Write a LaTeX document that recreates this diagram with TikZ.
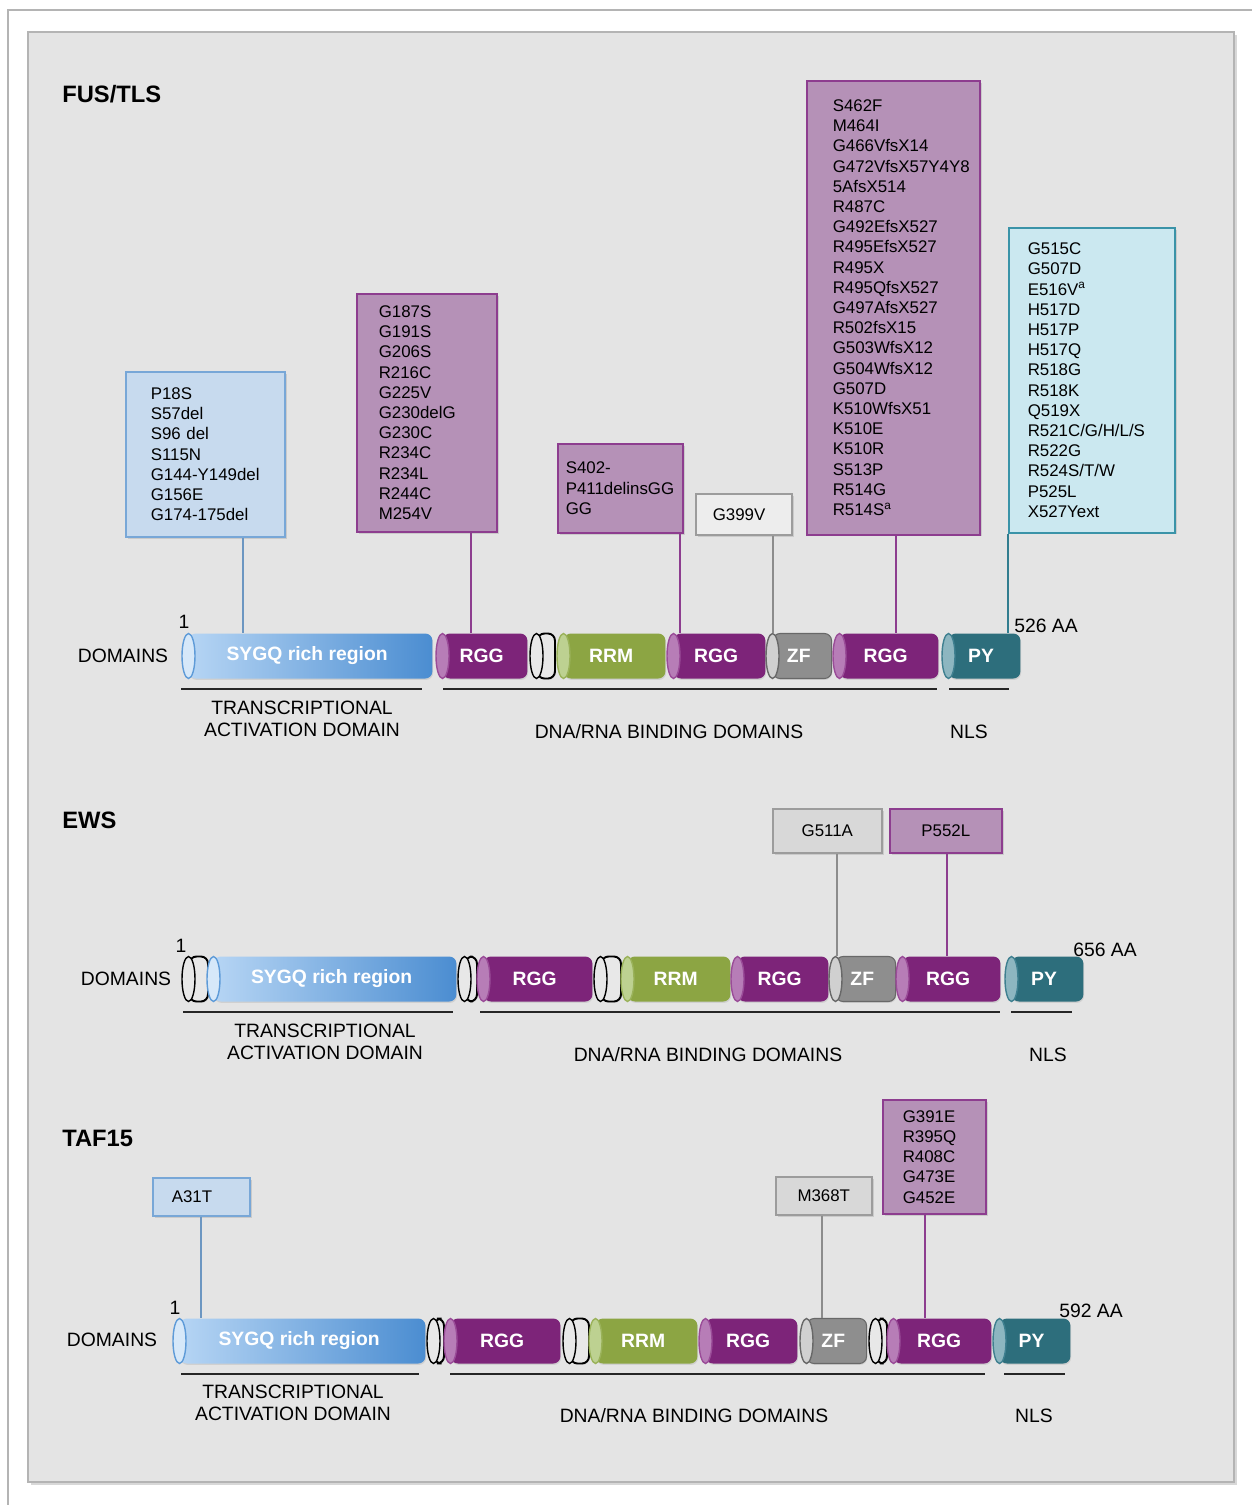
\documentclass[tikz,border=0pt]{standalone}
\usepackage{fontspec}
\setmainfont{Liberation Sans}
\usetikzlibrary{shadows}

\definecolor{panel}{HTML}{E4E4E4}
\definecolor{framec}{HTML}{B4B4B4}
\definecolor{rggB}{HTML}{7D2479}\definecolor{rggF}{HTML}{B77DB7}\definecolor{rggE}{HTML}{9A4C98}
\definecolor{rrmB}{HTML}{8CA543}\definecolor{rrmF}{HTML}{BDD191}\definecolor{rrmE}{HTML}{9AB25A}
\definecolor{zfB}{HTML}{8E8E8E}\definecolor{zfF}{HTML}{D0D0D0}\definecolor{zfE}{HTML}{686868}
\definecolor{pyB}{HTML}{2D6E7C}\definecolor{pyF}{HTML}{8DB6C0}\definecolor{pyE}{HTML}{3F8090}
\definecolor{sygL}{HTML}{B6D5F4}\definecolor{sygR}{HTML}{4B8DD1}\definecolor{sygF}{HTML}{D6E8F9}\definecolor{sygE}{HTML}{5E9BD8}
\definecolor{gapF}{HTML}{E8E8E8}\definecolor{gapE}{HTML}{000000}
\definecolor{boxblue}{HTML}{C7DAEE}\definecolor{boxblueE}{HTML}{78A7D7}
\definecolor{boxmauve}{HTML}{B591B7}\definecolor{boxmauveE}{HTML}{8D3D8F}
\definecolor{boxcyan}{HTML}{CBE8F0}\definecolor{boxcyanE}{HTML}{3A93A8}
\definecolor{boxgray}{HTML}{D8D8D8}\definecolor{boxgrayE}{HTML}{9C9C9C}
\definecolor{boxlight}{HTML}{EDEDED}

\newcommand{\mutfont}{\fontsize{9.6}{11.5}\selectfont}
\newcommand{\lblfont}{\fontsize{11}{12.5}\selectfont}

% one protein domain: name, left, right, y, kind, label
\newcommand{\protdomain}[6]{%
  \node[dom, #5, minimum width={(#3-#2-6.5)*0.02cm}, anchor=west] (#1) at ({#2+6.5},#4) {\kern-0.14cm#6};
  \filldraw[fill=#5F, draw=#5E, line width=0.8pt] (#1.west) ellipse [x radius=0.13cm, y radius=0.45cm];
}

\begin{document}
\begin{tikzpicture}[x=0.02cm, y=-0.02cm,
  dom/.style={rectangle, rounded corners=4pt, inner sep=0pt, minimum height=0.9cm, text=white,
    font=\bfseries\fontsize{11}{13}\selectfont, drop shadow={opacity=0.2, shadow xshift=0.4pt, shadow yshift=-0.8pt}},
  rgg/.style={fill=rggB}, rrm/.style={fill=rrmB}, py/.style={fill=pyB},
  zf/.style={fill=zfB, draw=zfE, line width=0.6pt},
  syg/.style={left color=sygL, right color=sygR},
  gap/.style={fill=gapF, draw=black, line width=1.1pt},
  mut/.style={draw, line width=0.9pt, anchor=north west, align=left, inner ysep=0pt, font=\mutfont,
    drop shadow={opacity=0.25, shadow xshift=1pt, shadow yshift=-1pt}},
  mutc/.style={mut, align=center, inner sep=0pt},
  bluebox/.style={fill=boxblue, draw=boxblueE},
  mauvebox/.style={fill=boxmauve, draw=boxmauveE},
  cyanbox/.style={fill=boxcyan, draw=boxcyanE},
  graybox/.style={fill=boxgray, draw=boxgrayE},
  bline/.style={draw=boxblueE!90!black, line width=0.8pt},
  pline/.style={draw=boxmauveE, line width=0.8pt},
  gline/.style={draw=boxgrayE!90!black, line width=0.8pt},
  cline/.style={draw=boxcyanE!85!black, line width=0.8pt},
  uline/.style={draw=black!85, line width=1.1pt},
  lbl/.style={font=\lblfont, inner sep=0pt},
  title/.style={font=\bfseries\fontsize{13.5}{16}\selectfont, anchor=west, inner sep=0pt}]

\useasboundingbox (0,0) rectangle (1252,1505);
\fill[white] (0,0) rectangle (1252,1505);
\draw[framec, line width=0.8pt] (8,1505) -- (8,10) -- (1252,10);
\draw[fill=panel, draw=framec, line width=1pt, drop shadow={opacity=0.3, shadow xshift=1.5pt, shadow yshift=-1.5pt}]
  (28,32) rectangle (1234,1482);

% FUS/TLS
\node[title] (fus) at (62,94) {FUS/TLS};

\protdomain{f-syg}{182}{432}{656}{syg}{SYGQ rich region}
\protdomain{f-rgg1}{436}{527}{656}{rgg}{RGG}
\protdomain{f-gap}{530}{554}{656}{gap}{}
\protdomain{f-rrm}{557}{665}{656}{rrm}{RRM}
\protdomain{f-rgg2}{667}{765}{656}{rgg}{RGG}
\protdomain{f-zf}{766}{831}{656}{zf}{ZF}
\protdomain{f-rgg3}{833}{938}{656}{rgg}{RGG}
\protdomain{f-py}{942}{1020}{656}{py}{PY}

\node[lbl] (f-dom) at (123,656) {DOMAINS};
\node[lbl] (f-one) at (184,622) {1};
\node[lbl, anchor=west] (f-len) at (1014,626) {526 AA};

\node[mut, bluebox, text width=2.18cm, inner xsep=0.5cm, minimum height=3.3cm] (fb1) at (125,371)
  {P18S\\S57del\\S96 del\\S115N\\G144-Y149del\\G156E\\G174-175del};
\node[mut, mauvebox, text width=1.92cm, inner xsep=0.44cm, minimum height=4.76cm] (fb2) at (356,293)
  {G187S\\G191S\\G206S\\R216C\\G225V\\G230delG\\G230C\\R234C\\R234L\\R244C\\M254V};
\node[mut, mauvebox, text width=2.18cm, inner xsep=0.16cm, minimum height=1.78cm] (fb3) at (557,443)
  {S402-\\P411delinsGG\\GG};
\node[mut, graybox, fill=boxlight, text width=1.24cm, inner xsep=0.34cm, minimum height=0.82cm] (fb4) at (695,493)
  {G399V};
\node[mut, mauvebox, text width=2.42cm, inner xsep=0.52cm, minimum height=9.08cm] (fb5) at (806,80)
  {S462F\\M464I\\G466VfsX14\\G472VfsX57Y4Y8\\5AfsX514\\R487C\\G492EfsX527\\R495EfsX527\\R495X\\R495QfsX527\\G497AfsX527\\R502fsX15\\G503WfsX12\\G504WfsX12\\G507D\\K510WfsX51\\K510E\\K510R\\S513P\\R514G\\R514S\textsuperscript{a}};
\node[mut, cyanbox, text width=2.56cm, inner xsep=0.38cm, minimum height=6.1cm] (fb6) at (1008,227)
  {G515C\\G507D\\E516V\textsuperscript{a}\\H517D\\H517P\\H517Q\\R518G\\R518K\\Q519X\\R521C/G/H/L/S\\R522G\\R524S/T/W\\P525L\\X527Yext};

\draw[bline] (fb1.south -| 243,0) -- (f-syg.north -| 243,0);
\draw[pline] (fb2.south -| 471,0) -- (f-rgg1.north -| 471,0);
\draw[pline] (fb3.south -| 680,0) -- (f-rgg2.north -| 680,0);
\draw[gline] (fb4.south -| 773,0) -- (f-zf.north -| 773,0);
\draw[pline] (fb5.south -| 896,0) -- (f-rgg3.north -| 896,0);
\draw[cline] (fb6.south west) -- (f-py.north -| fb6.south west);

\draw[uline] (181,689) -- (422,689);
\draw[uline] (443,689) -- (937,689);
\draw[uline] (949,689) -- (1009,689);
\node[lbl, align=center] (f-tad) at (302,719) {TRANSCRIPTIONAL\\ACTIVATION DOMAIN};
\node[lbl] (f-dna) at (669,732) {DNA/RNA BINDING DOMAINS};
\node[lbl] (f-nls) at (969,732) {NLS};

% EWS
\node[title] (ews) at (62,820) {EWS};

\protdomain{e-gap1}{182}{207}{979}{gap}{}
\protdomain{e-syg}{207}{456}{979}{syg}{SYGQ rich region}
\protdomain{e-gap2}{458}{476}{979}{gap}{}
\protdomain{e-rgg1}{477}{592}{979}{rgg}{RGG}
\protdomain{e-gap3}{594}{620}{979}{gap}{}
\protdomain{e-rrm}{621}{730}{979}{rrm}{RRM}
\protdomain{e-rgg2}{731}{828}{979}{rgg}{RGG}
\protdomain{e-zf}{829}{895}{979}{zf}{ZF}
\protdomain{e-rgg3}{896}{1000}{979}{rgg}{RGG}
\protdomain{e-py}{1005}{1083}{979}{py}{PY}

\node[lbl] (e-dom) at (126,979) {DOMAINS};
\node[lbl] (e-one) at (181,946) {1};
\node[lbl, anchor=west] (e-len) at (1073,950) {656 AA};

\node[mutc, graybox, minimum width=2.18cm, minimum height=0.88cm] (eb1) at (772,808) {G511A};
\node[mutc, mauvebox, minimum width=2.24cm, minimum height=0.88cm] (eb2) at (889,808) {P552L};

\draw[gline] (eb1.south -| 837,0) -- (e-zf.north -| 837,0);
\draw[pline] (eb2.south -| 947,0) -- (e-rgg3.north -| 947,0);

\draw[uline] (183,1012) -- (453,1012);
\draw[uline] (480,1012) -- (1000,1012);
\draw[uline] (1011,1012) -- (1072,1012);
\node[lbl, align=center] (e-tad) at (325,1042) {TRANSCRIPTIONAL\\ACTIVATION DOMAIN};
\node[lbl] (e-dna) at (708,1055) {DNA/RNA BINDING DOMAINS};
\node[lbl] (e-nls) at (1048,1055) {NLS};

% TAF15
\node[title] (taf) at (62,1138) {TAF15};

\protdomain{t-syg}{173}{425}{1341}{syg}{SYGQ rich region}
\protdomain{t-gap1}{427}{443}{1341}{gap}{}
\protdomain{t-rgg1}{444}{560}{1341}{rgg}{RGG}
\protdomain{t-gap2}{563}{588}{1341}{gap}{}
\protdomain{t-rrm}{589}{697}{1341}{rrm}{RRM}
\protdomain{t-rgg2}{699}{797}{1341}{rgg}{RGG}
\protdomain{t-zf}{800}{866}{1341}{zf}{ZF}
\protdomain{t-gap3}{869}{886}{1341}{gap}{}
\protdomain{t-rgg3}{887}{991}{1341}{rgg}{RGG}
\protdomain{t-py}{993}{1070}{1341}{py}{PY}

\node[lbl] (t-dom) at (112,1340) {DOMAINS};
\node[lbl] (t-one) at (175,1308) {1};
\node[lbl, anchor=west] (t-len) at (1059,1311) {592 AA};

\node[mut, bluebox, text width=1.18cm, inner xsep=0.38cm, minimum height=0.76cm] (tb1) at (152,1177) {A31T};
\node[mutc, graybox, minimum width=1.92cm, minimum height=0.76cm] (tb2) at (775,1176) {M368T};
\node[mut, mauvebox, text width=1.26cm, inner xsep=0.4cm, minimum height=2.28cm] (tb3) at (882,1099)
  {G391E\\R395Q\\R408C\\G473E\\G452E};

\draw[bline] (tb1.south -| 201,0) -- (t-syg.north -| 201,0);
\draw[gline] (tb2.south -| 822,0) -- (t-zf.north -| 822,0);
\draw[pline] (tb3.south -| 925,0) -- (t-rgg3.north -| 925,0);

\draw[uline] (181,1374) -- (419,1374);
\draw[uline] (450,1374) -- (985,1374);
\draw[uline] (1004,1374) -- (1065,1374);
\node[lbl, align=center] (t-tad) at (293,1403) {TRANSCRIPTIONAL\\ACTIVATION DOMAIN};
\node[lbl] (t-dna) at (694,1416) {DNA/RNA BINDING DOMAINS};
\node[lbl] (t-nls) at (1034,1416) {NLS};

\end{tikzpicture}
\end{document}
